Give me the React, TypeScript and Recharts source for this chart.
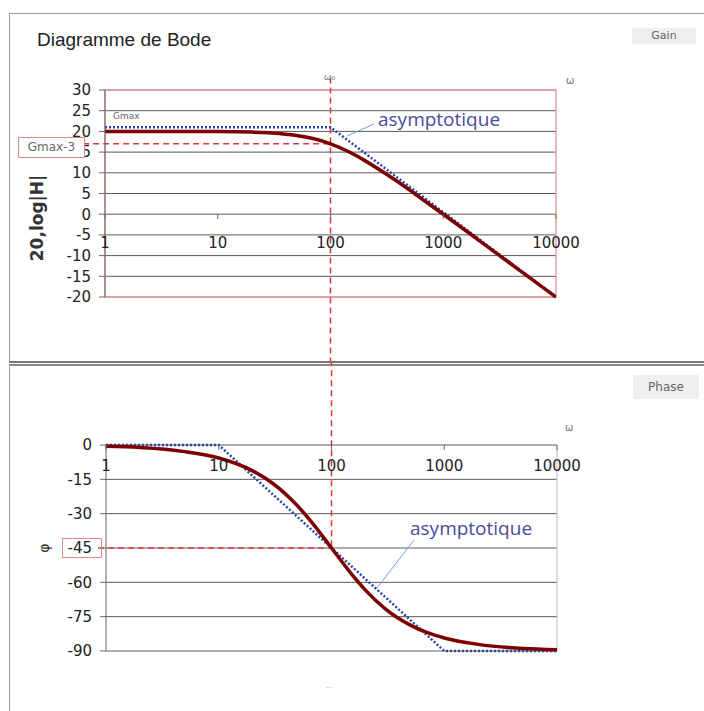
import React from 'react';
import { LineChart, Line, XAxis, YAxis, CartesianGrid, ReferenceLine, ReferenceArea } from 'recharts';

// pulsation (rad/s) and readings
const omega = [1, 2, 5, 10, 20, 30, 50, 70, 100, 150, 200, 300, 500, 700, 1000, 2000, 5000, 10000];
const gainDb = [20, 20, 19.99, 19.96, 19.83, 19.63, 19.03, 18.27, 17, 14.9, 13, 10, 5.9, 3, 0, -6, -14, -20];
const phaseDeg = [-0.6, -1.1, -2.9, -5.7, -11.3, -16.7, -26.6, -35, -45, -56.3, -63.4, -71.6, -78.7, -81.9, -84.3, -87.1, -88.9, -89.4];

const gainAsymW = [1, 100, 10000];
const gainAsymDb = [21, 21, -20];
const phaseAsymW = [1, 10, 1000, 10000];
const phaseAsymDeg = [0, 0, -90, -90];

const decades = [1, 10, 100, 1000, 10000];
const gainTicks = [30, 25, 20, 15, 10, 5, 0, -5, -10, -15, -20];
const phaseTicks = [0, -15, -30, -45, -60, -75, -90];

const gainData = omega.map((w, i) => ({ w, v: gainDb[i] }));
const gainAsym = gainAsymW.map((w, i) => ({ w, v: gainAsymDb[i] }));
const phaseData = omega.map((w, i) => ({ w, v: phaseDeg[i] }));
const phaseAsym = phaseAsymW.map((w, i) => ({ w, v: phaseAsymDeg[i] }));

const font = 'DejaVu Sans, sans-serif';
const red = '#e03838';
const curve = '#7d0000';
const blue = '#2a44a8';

const xTick = (labelY: number, axisY: number) => (props: any) => {
    const { x, payload } = props;
    return (
        <g>
            <line x1={x} x2={x} y1={axisY} y2={axisY + 5} stroke="#666" />
            <text x={x} y={labelY} textAnchor="middle" dominantBaseline="central" fontSize={15} fontFamily={font} fill="#222">
                {payload.value}
            </text>
        </g>
    );
};

const yTickStyle = { fontSize: 15, fontFamily: font, fill: '#222' };

function GainChart() {
    return (
        <LineChart width={704} height={362} margin={{ top: 90, right: 148, left: 45, bottom: 45 }}>
            <CartesianGrid vertical={false} stroke="#5a5a5a" />
            <XAxis dataKey="w" type="number" scale="log" domain={[1, 10000]} ticks={decades} allowDataOverflow
                axisLine={false} tickLine={false} height={20} tick={xTick(243, 214)} />
            <YAxis type="number" domain={[-20, 30]} ticks={gainTicks} width={60} interval={0}
                axisLine={{ stroke: '#666' }} tickLine={{ stroke: '#666' }} tickMargin={8} tick={yTickStyle} />
            <ReferenceArea x1={1} x2={10000} y1={-20} y2={30} fill="none" stroke="#eaa0a0" strokeWidth={1.5} />
            <ReferenceLine segment={[{ x: 0.64, y: 17 }, { x: 100, y: 17 }]} ifOverflow="visible" stroke={red} strokeWidth={1.5} strokeDasharray="6 4" />
            <ReferenceLine segment={[{ x: 100, y: 33 }, { x: 100, y: -36 }]} ifOverflow="visible" stroke={red} strokeWidth={1.5} strokeDasharray="6 4" />
            <Line data={gainAsym} dataKey="v" type="linear" stroke={blue} strokeWidth={2.5} strokeDasharray="2 2" dot={false} isAnimationActive={false} />
            <Line data={gainData} dataKey="v" type="monotone" stroke={curve} strokeWidth={3.5} dot={false} isAnimationActive={false} />
        </LineChart>
    );
}

function PhaseChart() {
    return (
        <LineChart width={704} height={349} margin={{ top: 83, right: 147, left: 46, bottom: 40 }}>
            <CartesianGrid vertical={false} stroke="#5a5a5a" />
            <XAxis dataKey="w" type="number" scale="log" domain={[1, 10000]} ticks={decades} allowDataOverflow
                axisLine={false} tickLine={false} height={20} tick={xTick(104, 83)} />
            <YAxis type="number" domain={[-90, 0]} ticks={phaseTicks} width={60} interval={0}
                axisLine={{ stroke: '#666' }} tickLine={{ stroke: '#666' }} tickMargin={8} tick={yTickStyle} />
            <ReferenceLine x={10000} stroke="#bbb" />
            <ReferenceLine segment={[{ x: 0.85, y: -45 }, { x: 100, y: -45 }]} ifOverflow="visible" stroke={red} strokeWidth={1.5} strokeDasharray="6 4" />
            <ReferenceLine segment={[{ x: 100, y: 37 }, { x: 100, y: -45 }]} ifOverflow="visible" stroke={red} strokeWidth={1.5} strokeDasharray="6 4" />
            <Line data={phaseAsym} dataKey="v" type="linear" stroke={blue} strokeWidth={2.5} strokeDasharray="2 2" dot={false} isAnimationActive={false} />
            <Line data={phaseData} dataKey="v" type="monotone" stroke={curve} strokeWidth={3.5} dot={false} isAnimationActive={false} />
        </LineChart>
    );
}

const abs = (left: number, top: number, extra: any = {}) => ({ position: 'absolute' as const, left, top, ...extra });

export default function App() {
    return (
        <div style={{ position: 'absolute', left: 0, top: 0, width: 704, height: 711, overflow: 'hidden', background: '#fff', fontFamily: font }}>
            {/* panel frames */}
            <div style={abs(9, 13, { width: 720, height: 347, borderTop: '1px solid #999', borderLeft: '1px solid #999', borderBottom: '2px solid #777' })} />
            <div style={abs(9, 364, { width: 720, height: 400, borderTop: '2px solid #888', borderLeft: '1px solid #999' })} />

            <div style={abs(0, 0)}><GainChart /></div>
            <div style={abs(0, 362)}><PhaseChart /></div>

            <div style={abs(37, 29, { fontFamily: 'Liberation Sans, Arial, sans-serif', fontSize: 19, color: '#222' })}>Diagramme de Bode</div>
            <div style={abs(632, 28, { width: 64, height: 16, background: '#efefef', color: '#666', fontSize: 11, lineHeight: '16px', textAlign: 'center' })}>Gain</div>
            <div style={abs(633, 375, { width: 66, height: 24, background: '#efefef', color: '#666', fontSize: 12, lineHeight: '24px', textAlign: 'center' })}>Phase</div>

            <div style={abs(324, 72, { fontSize: 9, color: '#777' })}>ω₀</div>
            <div style={abs(566, 75, { fontSize: 10, color: '#777' })}>ω</div>
            <div style={abs(565, 422, { fontSize: 10, color: '#777' })}>ω</div>
            <div style={abs(113, 111, { fontSize: 9, color: '#666' })}>Gmax</div>
            <div style={abs(326, 682, { fontSize: 9, color: '#ccc' })}>--</div>

            <div style={abs(18, 137, { width: 65, height: 19, border: '1px solid #e08888', background: '#fff', color: '#666', fontSize: 12, lineHeight: '19px', textAlign: 'center' })}>Gmax-3</div>
            <div style={abs(62, 538, { width: 38, height: 18, border: '1px solid #e08888' })} />

            <div style={abs(37, 218, { transform: 'translate(-50%, -50%) rotate(-90deg)', fontSize: 17, fontWeight: 'bold', color: '#333', whiteSpace: 'nowrap' })}>20,log|H|</div>
            <div style={abs(44, 548, { transform: 'translate(-50%, -50%) rotate(-90deg)', fontSize: 14, color: '#333' })}>φ</div>

            <div style={abs(378, 106, { fontFamily: 'Open Sans, sans-serif', fontSize: 19, color: '#4a4a9e' })}>asymptotique</div>
            <div style={abs(410, 515, { fontFamily: 'Open Sans, sans-serif', fontSize: 19, color: '#4a4a9e' })}>asymptotique</div>

            <svg width={704} height={711} style={abs(0, 0)}>
                <line x1={374} y1={124} x2={347} y2={136} stroke="#7a9ad8" strokeWidth={1} />
                <line x1={414} y1={540} x2={377} y2={588} stroke="#7a9ad8" strokeWidth={1} />
            </svg>
        </div>
    );
}
